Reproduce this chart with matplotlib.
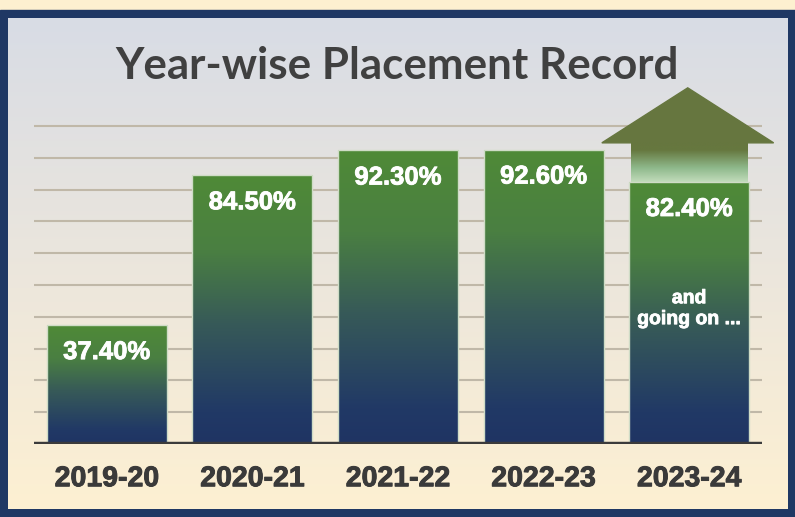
#import
import numpy as np
import matplotlib.pyplot as plt
import matplotlib.patheffects as pe
from matplotlib.colors import LinearSegmentedColormap
from matplotlib.patches import Polygon, Rectangle

#data
years = ["2019-20", "2020-21", "2021-22", "2022-23", "2023-24"]
placement = [37.4, 84.5, 92.3, 92.6, 82.4]
value_labels = ["37.40%", "84.50%", "92.30%", "92.60%", "82.40%"]
note = "and\ngoing on ..."

#colours
navy = "#1f3864"
bar_cmap = LinearSegmentedColormap.from_list(
    "bar", [(0, "#1f3463"), (0.12, "#213966"), (0.45, "#375a58"), (0.72, "#4a7f42"), (1, "#4f8a37")])
bg_cmap = LinearSegmentedColormap.from_list(
    "bg", [(0, "#fdf0d2"), (0.45, "#ede7dc"), (1, "#d8dce5")])
shaft_cmap = LinearSegmentedColormap.from_list(
    "shaft", [(0, "#c2dcbb"), (0.35, "#8fb98c"), (0.8, "#66783f"), (1, "#66763f")])

fig = plt.figure(figsize=(7.95, 5.17), dpi=100, facecolor="#fdf0d0")

#background frame (pixel coordinates)
bg = fig.add_axes([0, 0, 1, 1])
bg.axis("off")
bg.add_patch(Rectangle((0, 10), 795, 507, color=navy, zorder=0))
grad = np.linspace(0, 1, 256).reshape(-1, 1)
bg.imshow(grad, cmap=bg_cmap, extent=[8, 788, 509, 18], aspect="auto", origin="lower", zorder=1)
bg.set_xlim(0, 795)
bg.set_ylim(517, 0)

#title
fig.text(0.5, 1 - 66 / 517, "Year-wise Placement Record", ha="center", va="center",
         fontsize=31.7, fontweight="bold", color="#404040", family="Lato")

#main axes
ax = fig.add_axes([34 / 795, (517 - 444) / 517, 728 / 795, 381.6 / 517])
ax.patch.set_visible(False)
for s in ax.spines.values():
    s.set_visible(False)

x = np.arange(len(years))
width = 0.825
bars = ax.bar(x, placement, width=width, color="none", edgecolor="#cfdcc6", linewidth=1, zorder=3)

#gradient fill inside each bar
vgrad = np.linspace(0, 1, 256).reshape(-1, 1)
for b in bars:
    im = ax.imshow(vgrad, cmap=bar_cmap, origin="lower", aspect="auto", zorder=2,
                   extent=[b.get_x(), b.get_x() + b.get_width(), 0, b.get_height()])
    im.set_clip_path(b)

#value labels
white_stroke = [pe.withStroke(linewidth=0.6, foreground="white")]
for xi, v, lab in zip(x, placement, value_labels):
    ax.text(xi, v - 8.5, lab, ha="center", va="center", color="white",
            fontsize=18.5, fontweight="bold", family="Liberation Sans", zorder=5,
            path_effects=white_stroke)

ax.text(x[-1], placement[-1] - 40, note, ha="center", va="center", color="white",
        fontsize=14, fontweight="bold", family="Liberation Sans", linespacing=1.3, zorder=5,
        path_effects=white_stroke)

#up arrow above last bar
top = placement[-1]
xc = x[-1]
shaft = ax.imshow(vgrad, cmap=shaft_cmap, origin="lower", aspect="auto", zorder=2,
                  extent=[xc - 0.4, xc + 0.4, top, top + 12.3], clip_on=False)
head = Polygon([[xc - 0.6, top + 12.3], [xc + 0.58, top + 12.3], [xc - 0.01, top + 29.6]],
               closed=True, color="#66763f", zorder=3, clip_on=False)
ax.add_patch(head)

#grid and axis
ax.set_xlim(-0.5, 4.5)
ax.set_ylim(0, 120)
ax.set_yticks(range(10, 101, 10))
ax.yaxis.grid(True, color="#c0b8a8", linewidth=1.5)
ax.set_axisbelow(True)
ax.tick_params(axis="y", length=0, labelleft=False)
ax.axhline(0, color="#3b3b3b", linewidth=3.2, zorder=4)

ax.set_xticks(x)
ax.set_xticklabels(years, fontsize=20.5, fontweight="bold", color="#3a3a3a", family="Liberation Sans",
                   path_effects=[pe.withStroke(linewidth=0.7, foreground="#3a3a3a")])
ax.tick_params(axis="x", length=0, pad=16)

#printing graph
fig.savefig("out.png", dpi=100)
